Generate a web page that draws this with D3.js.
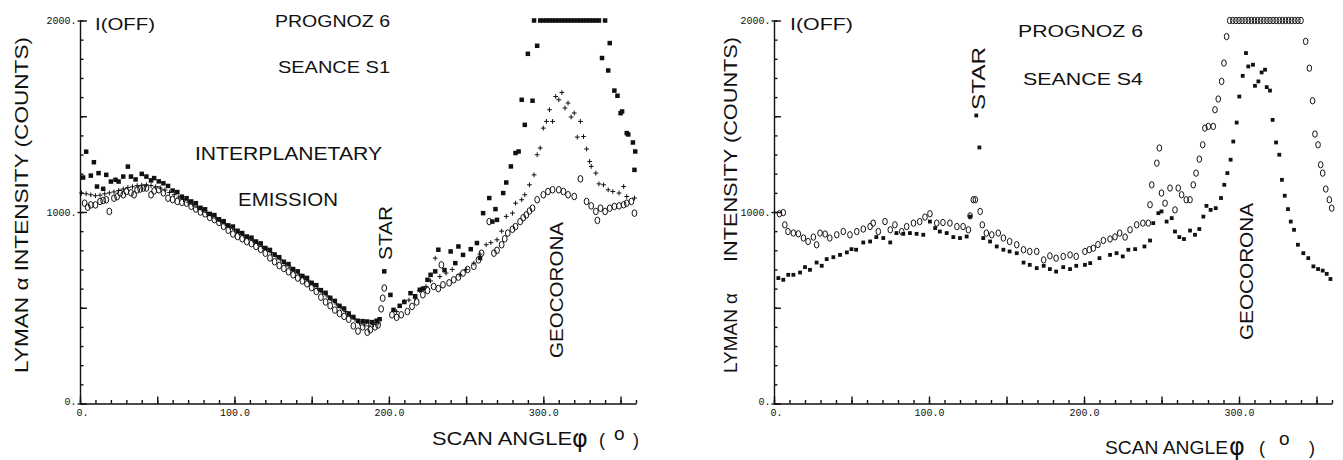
<!DOCTYPE html>
<html>
<head>
<meta charset="utf-8">
<script src="https://cdn.jsdelivr.net/npm/d3@7"></script>
<style>
	body { margin: 0; background: #fff; }
	svg { display: block; background: #fff; }
	.lbl { font-family: 'Liberation Sans', Arial, sans-serif; fill: #111; }
	.phi { font-family: 'DejaVu Sans', sans-serif; }
	.tick text { font-family: 'Liberation Mono', 'DejaVu Sans Mono', monospace; font-size: 10px; fill: #111; }
	.domain, .tick line { stroke: #111; stroke-width: 1.4; }
</style>
</head>
<body>
<svg id="chart" width="1343" height="460"></svg>
<script>
// seance S1 (left panel): [scan angle, counts]
const s1Squares = [[2,1180],[4,1315],[7,1190],[9,1260],[11,1133],[12,1203],[15,1121],[17,1194],[20,1159],[23,1168],[25,1159],[28,1185],[31,1237],[33,1185],[36,1170],[40,1199],[43,1185],[46,1165],[48,1177],[51,1160],[54,1150],[57,1136],[60,1112],[63,1104],[66,1080],[69,1072],[72,1055],[75,1046],[78,1022],[81,1014],[84,990],[87,984],[90,962],[93,952],[96,930],[99,924],[102,902],[105,890],[108,872],[111,866],[114,846],[117,836],[120,812],[123,802],[126,778],[129,764],[132,740],[135,728],[138,702],[141,690],[144,666],[147,656],[150,630],[153,618],[156,592],[159,578],[162,552],[165,536],[168,510],[171,496],[174,470],[177,452],[180,432],[183,430],[186,428],[189,425],[192,432],[194,440],[197,690],[201,567],[203,489],[207,510],[210,530],[214,576],[217,560],[220,594],[222,600],[225,646],[227,672],[230,690],[232,803],[236,697],[240,794],[243,733],[245,820],[248,776],[253,806],[257,838],[259,760],[261,994],[265,1073],[267,950],[269,1015],[270,959],[274,1099],[276,1154],[279,1238],[282,1308],[284,1316],[286,1586],[288,1455],[290,1826],[293,1581],[294,2000],[296,1868],[298,2000],[300,2000],[302,2000],[304,2000],[306,2000],[308,2000],[310,2000],[312,2000],[314,2000],[316,2000],[318,2000],[320,2000],[322,2000],[324,2000],[326,2000],[328,2000],[330,2000],[332,2000],[334,2000],[336,2000],[338,1804],[340,2000],[342,1739],[343,1882],[346,1634],[348,1607],[350,1516],[351,1525],[354,1412],[355,1405],[358,1363],[359,1220],[359.5,1316]]
const s1Plus = [[1,1099],[4,1095],[7,1090],[10,1085],[13,1088],[16,1095],[19,1100],[22,1105],[25,1112],[28,1120],[31,1128],[34,1132],[37,1138],[40,1140],[43,1142],[46,1138],[49,1132],[52,1125],[55,1115],[58,1102],[61,1090],[64,1078],[67,1065],[70,1052],[73,1040],[76,1025],[79,1012],[82,998],[85,982],[88,968],[91,952],[94,938],[97,922],[100,908],[103,892],[106,878],[109,865],[112,852],[115,836],[118,820],[121,805],[124,788],[127,768],[130,750],[133,730],[136,712],[139,692],[142,675],[145,658],[148,640],[151,620],[154,600],[157,582],[160,562],[163,540],[166,520],[169,500],[172,480],[175,458],[178,440],[181,420],[184,410],[187,405],[190,412],[193,420],[205,480],[210,533],[213,540],[217,550],[220,590],[224,611],[227,640],[230,759],[233,663],[237,681],[241,700],[246,672],[250,700],[255,733],[259,780],[263,829],[266,840],[270,855],[273,900],[276,977],[280,994],[282,1046],[286,1064],[288,1090],[291,1142],[294,1194],[296,1299],[298,1334],[300,1438],[302,1473],[304,1534],[306,1473],[308,1603],[310,1586],[312,1624],[314,1543],[316,1569],[318,1496],[320,1517],[322,1391],[324,1473],[326,1394],[328,1329],[330,1264],[331,1238],[334,1203],[336,1147],[339,1142],[342,1116],[345,1107],[349,1099],[352,1133],[354,1081],[359,1073]]
const s1Circles = [[3,1046],[5,1025],[7,1037],[10,1037],[13,1055],[15,1060],[17,1064],[19,1003],[22,1072],[24,1080],[26,1099],[28,1090],[30,1107],[33,1100],[35,1090],[37,1115],[39,1120],[41,1125],[43,1125],[46,1090],[48,1110],[51,1116],[54,1100],[57,1072],[60,1065],[63,1055],[66,1050],[69,1046],[72,1030],[75,1015],[78,1000],[81,990],[84,972],[87,960],[90,945],[93,925],[96,905],[99,885],[102,872],[105,860],[108,845],[111,835],[114,820],[117,805],[120,785],[123,760],[126,740],[129,720],[132,705],[135,688],[138,672],[141,655],[144,640],[147,625],[150,605],[153,585],[156,555],[159,530],[162,510],[165,488],[168,470],[171,455],[174,440],[177,405],[180,378],[183,400],[186,372],[188,385],[191,400],[193,410],[195,494],[196,550],[197,603],[202,463],[205,450],[208,463],[212,480],[215,507],[218,530],[222,568],[225,590],[229,611],[232,600],[234,724],[235,620],[239,630],[242,646],[245,660],[248,681],[251,700],[255,716],[258,750],[260,785],[265,950],[268,785],[270,800],[273,829],[275,860],[277,890],[280,910],[282,924],[285,950],[287,970],[289,985],[291,1005],[293,1020],[296,1064],[300,1090],[303,1107],[306,1116],[310,1116],[313,1107],[316,1090],[320,1081],[324,1173],[328,1055],[331,1032],[334,1003],[335,956],[337,1020],[340,1003],[343,1020],[346,1029],[349,1032],[352,1038],[354,1046],[357,1055],[359,994]]

// seance S4 (right panel)
const s4Squares = [[2.8,655],[6,646],[9.2,672],[12.5,672],[16.8,684],[20,712],[23.2,698],[27.5,736],[30.8,719],[34,754],[38.3,764],[42.6,776],[47,789],[50,806],[53,803],[57.6,841],[62,846],[66,869],[70.5,864],[75,841],[79,890],[83.4,886],[87.7,890],[92,886],[96.3,881],[100.6,950],[104,916],[107,898],[111.4,890],[115.7,869],[120,864],[124.3,872],[126.5,976],[130.5,1504],[132.5,1337],[135,864],[139.4,846],[143.7,820],[148,803],[152,794],[156.6,785],[161,736],[165,724],[169.5,707],[174,719],[178,702],[182,689],[186.6,712],[191,702],[195,719],[200.6,724],[204,733],[210,759],[216.8,776],[221,785],[225,768],[228.6,803],[233,806],[239,820],[242.6,851],[244.7,942],[248,994],[250,1003],[253.3,950],[256.6,968],[258.7,898],[261.5,869],[264.5,859],[268.4,903],[271.6,881],[274.4,911],[277,976],[279,1032],[281.7,1011],[285,1020],[288.4,1073],[290.5,1142],[292.5,1203],[294.6,1273],[296.3,1368],[298.5,1467],[300.2,1603],[302.4,1711],[304.5,1830],[306,1760],[309,1769],[310.3,1659],[312.5,1682],[314.6,1729],[316.8,1743],[317.9,1652],[320,1634],[321.7,1481],[323.9,1363],[326,1299],[327.7,1168],[329.5,1085],[331.6,1015],[333.4,950],[335.5,907],[338,829],[341.5,785],[344.7,759],[348,716],[351,702],[354,694],[356.6,677],[359,650]]
const s4Circles = [[3.5,991],[6,997],[7,933],[9,898],[12.5,890],[15.7,886],[19,864],[22,846],[25.4,869],[27.5,829],[29.7,890],[33,885],[36,864],[40.5,881],[44.7,898],[49,881],[53.4,898],[57.6,911],[62,924],[64,942],[67.3,898],[71.6,950],[75,907],[78,933],[82.4,898],[85.6,924],[90,942],[94,950],[97.4,973],[100.6,991],[105,942],[109,945],[113.5,942],[118,924],[122,924],[125.4,907],[126.5,980],[128.6,1064],[129.9,1064],[133,1003],[134.4,933],[137,890],[140.5,881],[144.7,890],[148,864],[152,846],[156.6,829],[161,803],[165,794],[169.5,794],[174,750],[178,771],[182,759],[186.6,768],[191,776],[195,768],[200.6,794],[203.4,803],[206,811],[209,830],[212.5,851],[216.8,859],[220,870],[223,890],[226.5,869],[229.7,907],[234,933],[238,942],[241.5,942],[242.6,1038],[243.7,1142],[247,1255],[248.6,1334],[250,1099],[252.3,1046],[255.5,1125],[258.7,1011],[260.8,1125],[263,1090],[266,1064],[268.4,1064],[270.5,1142],[272.3,1203],[274.4,1276],[276.6,1351],[278,1438],[280.2,1447],[283.4,1447],[284.5,1534],[286.6,1590],[288.8,1682],[290.3,1778],[292,1916],[294,2000],[296,2000],[298,2000],[300,2000],[302,2000],[304,2000],[306,2000],[308,2000],[310,2000],[312,2000],[314,2000],[316,2000],[318,2000],[320,2000],[322,2000],[324,2000],[326,2000],[328,2000],[330,2000],[332,2000],[334,2000],[336,2000],[338,2000],[340,2000],[343,1891],[345.4,1751],[347.5,1581],[349,1407],[351,1351],[352.7,1247],[354,1203],[356,1120],[358.3,1064],[359.8,1020]]

const angleDomain = [0, 360]
const countDomain = [0, 2000]
const xMinorTicks = d3.range(0, 361, 10)
const xMajorTicks = [0, 50, 100, 150, 200, 250, 300, 350]
const xLabelTicks = [0, 100, 200, 300]
const yMinorTicks = d3.range(0, 2001, 100)
const yMajorTicks = [0, 500, 1000, 1500, 2000]
const yLabelTicks = [0, 1000, 2000]

const svg = d3.select('#chart')
const scaleY = d3.scaleLinear().domain(countDomain).range([403.5, 20.5])

function translate(x, y) {
	return `translate(${x}, ${y})`
}

function addText(g, str, x, y, size, len, rotate) {
	const t = g.append('text')
		.attr('class', 'lbl')
		.attr('font-size', size)
		.text(str)
	if (rotate) t.attr('transform', `${translate(x, y)} rotate(-90)`)
	else t.attr('x', x).attr('y', y)
	if (len) t.attr('textLength', len).attr('lengthAdjust', 'spacingAndGlyphs')
	return t
}

function drawAxes(g, scaleX) {
	const y0 = scaleY(0)
	const x0 = scaleX(0)

	g.append('g').attr('transform', translate(0, y0))
		.call(d3.axisBottom(scaleX).tickValues(xMinorTicks).tickSize(-3.5).tickSizeOuter(0).tickFormat(''))
	g.append('g').attr('transform', translate(0, y0))
		.call(d3.axisBottom(scaleX).tickValues(xMajorTicks).tickSize(-7).tickSizeOuter(0).tickFormat(''))
		.call(a => a.select('.domain').remove())
	g.append('g').attr('transform', translate(0, y0))
		.call(d3.axisBottom(scaleX).tickValues(xLabelTicks).tickSize(0).tickPadding(5)
			.tickFormat(d => d === 0 ? '0.' : d.toFixed(1)))
		.call(a => a.select('.domain').remove())
		.call(a => a.selectAll('.tick text').filter(d => d === 0).attr('dx', 2))

	g.append('g').attr('transform', translate(x0, 0))
		.call(d3.axisLeft(scaleY).tickValues(yMinorTicks).tickSize(-3.5).tickSizeOuter(0).tickFormat(''))
	g.append('g').attr('transform', translate(x0, 0))
		.call(d3.axisLeft(scaleY).tickValues(yMajorTicks).tickSize(-7).tickSizeOuter(0).tickFormat(''))
		.call(a => a.select('.domain').remove())
	g.append('g').attr('transform', translate(x0, 0))
		.call(d3.axisLeft(scaleY).tickValues(yLabelTicks).tickSize(2.5).tickPadding(1)
			.tickFormat(d => `${d}.`))
		.call(a => a.select('.domain').remove())
		.call(a => a.selectAll('.tick text').filter(d => d === 0).attr('dy', '0.1em'))
}

function drawSquares(g, scaleX, data, s) {
	g.append('g').selectAll('rect').data(data).join('rect')
		.attr('x', d => scaleX(d[0]) - s / 2)
		.attr('y', d => scaleY(d[1]) - s / 2)
		.attr('width', s)
		.attr('height', s)
		.attr('fill', '#111')
}

function drawPlus(g, scaleX, data, s) {
	g.append('g').selectAll('path').data(data).join('path')
		.attr('d', d => {
			const cx = scaleX(d[0]), cy = scaleY(d[1])
			return `M${cx - s},${cy}H${cx + s}M${cx},${cy - s}V${cy + s}`
		})
		.attr('stroke', '#111')
		.attr('stroke-width', 1)
}

function drawCircles(g, scaleX, data, rx, ry) {
	g.append('g').selectAll('ellipse').data(data).join('ellipse')
		.attr('cx', d => scaleX(d[0]))
		.attr('cy', d => scaleY(d[1]))
		.attr('rx', rx)
		.attr('ry', ry)
		.attr('fill', 'none')
		.attr('stroke', '#111')
		.attr('stroke-width', 1)
}

// "SCAN ANGLE φ ( o )" built from pieces, the phi and degree sign sit apart
function drawAxisTitle(g, parts) {
	parts.forEach(p => {
		const t = addText(g, p.t, p.x, p.y, p.size, p.len)
		if (p.cls) t.classed(p.cls, true)
	})
}

// ---- left panel, seance S1
const scaleXL = d3.scaleLinear().domain(angleDomain).range([80, 636])
const left = svg.append('g').attr('class', 'panel-s1')

drawCircles(left, scaleXL, s1Circles, 2.4, 3.3)
drawPlus(left, scaleXL, s1Plus, 2.4)
drawSquares(left, scaleXL, s1Squares, 4.5)
drawAxes(left, scaleXL)

addText(left, 'I(OFF)', 95, 30, 16, 60)
addText(left, 'PROGNOZ 6', 275, 27, 17, 115)
addText(left, 'SEANCE S1', 278, 73, 17, 112)
addText(left, 'INTERPLANETARY', 195, 160, 18, 187)
addText(left, 'EMISSION', 238, 206, 18, 100)
addText(left, 'STAR', 392, 260, 18, 54, true)
addText(left, 'GEOCORONA', 563, 358, 18, 136, true)
addText(left, 'LYMAN \u03b1 INTENSITY (COUNTS)', 28, 373, 18, 336, true)
drawAxisTitle(left, [
	{ t: 'SCAN ANGLE', x: 432, y: 445, size: 18, len: 140 },
	{ t: '\u03c6', x: 572, y: 447, size: 24, cls: 'phi' },
	{ t: '(', x: 599, y: 446, size: 18 },
	{ t: 'o', x: 614, y: 440, size: 19 },
	{ t: ')', x: 633, y: 446, size: 18 }
])

// ---- right panel, seance S4
const scaleXR = d3.scaleLinear().domain(angleDomain).range([774, 1332])
const right = svg.append('g').attr('class', 'panel-s4')

drawCircles(right, scaleXR, s4Circles, 2.3, 3.2)
drawSquares(right, scaleXR, s4Squares, 3.8)
drawAxes(right, scaleXR)

addText(right, 'I(OFF)', 790, 30, 16, 63)
addText(right, 'PROGNOZ 6', 1018, 37, 17, 125)
addText(right, 'SEANCE S4', 1023, 85, 17, 120)
addText(right, 'STAR', 985, 110, 18, 63, true)
addText(right, 'GEOCORONA', 1253, 340, 18, 137, true)
addText(right, 'LYMAN \u03b1', 737, 373, 18, 80, true)
addText(right, 'INTENSITY (COUNTS)', 737, 262, 18, 225, true)
drawAxisTitle(right, [
	{ t: 'SCAN ANGLE', x: 1105, y: 454, size: 18, len: 123 },
	{ t: '\u03c6', x: 1229, y: 455, size: 24, cls: 'phi' },
	{ t: '(', x: 1259, y: 454, size: 18 },
	{ t: 'o', x: 1279, y: 445, size: 19 },
	{ t: ')', x: 1309, y: 454, size: 18 }
])
</script>
</body>
</html>
